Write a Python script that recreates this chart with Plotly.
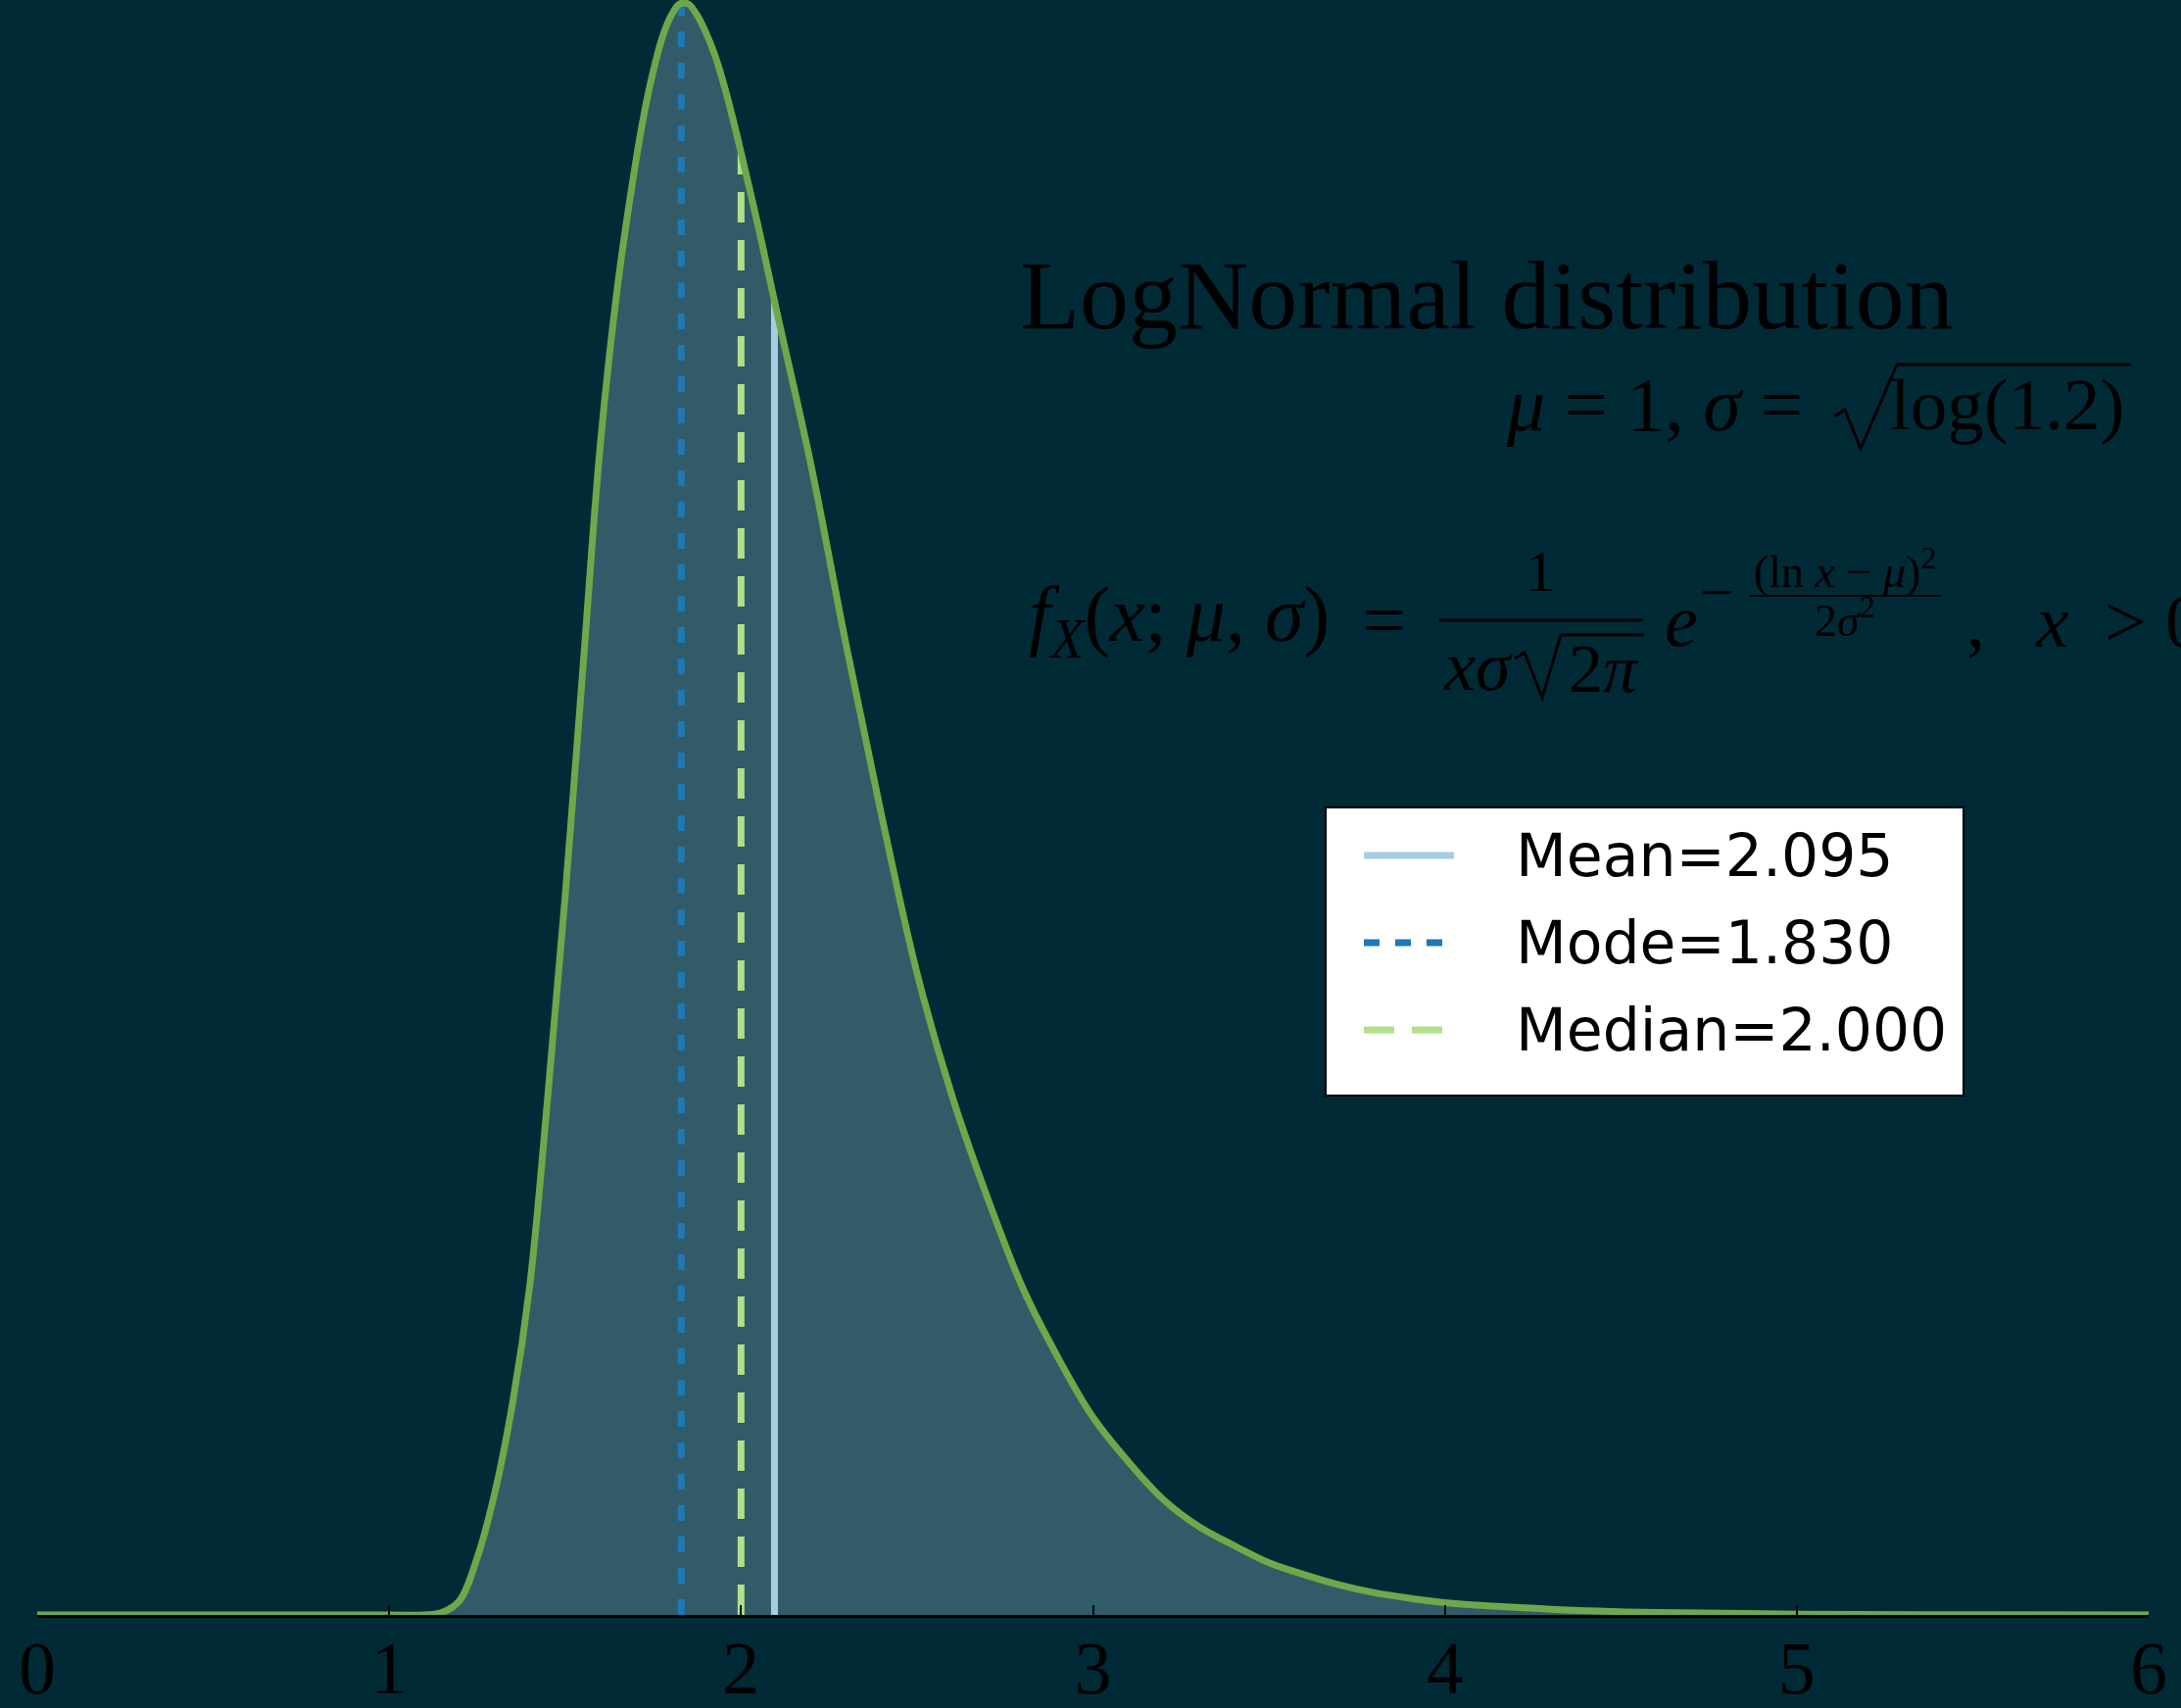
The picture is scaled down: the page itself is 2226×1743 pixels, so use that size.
import plotly.graph_objects as go

# ---- data ----
x_vals = [0.0, 0.5, 1.0, 1.1, 1.15, 1.2, 1.25, 1.3, 1.35, 1.4, 1.45, 1.5, 1.55, 1.6, 1.65,
          1.7, 1.725, 1.75, 1.775, 1.8, 1.825, 1.85, 1.875, 1.9, 1.925, 1.95, 1.975, 2.0,
          2.05, 2.1, 2.2, 2.3, 2.4, 2.5, 2.6, 2.7, 2.8, 2.9, 3.0, 3.1, 3.2, 3.3, 3.4, 3.5,
          3.6, 3.7, 3.8, 3.9, 4.0, 4.3, 4.6, 5.0, 5.5, 6.0]
pdf_vals = [0.0, 0.0, 0.0, 0.0, 0.0015, 0.009, 0.036, 0.077, 0.133, 0.209, 0.326, 0.454, 0.597,
            0.740, 0.842, 0.918, 0.950, 0.976, 0.997, 1.011, 1.019, 1.019, 1.012, 1.001, 0.987,
            0.969, 0.948, 0.925, 0.877, 0.826, 0.726, 0.612, 0.505, 0.406, 0.328, 0.264,
            0.207, 0.163, 0.125, 0.097, 0.073, 0.056, 0.044, 0.033, 0.0255, 0.019, 0.014,
            0.0105, 0.0078, 0.0036, 0.0015, 0.0005, 0.0001, 0.0]

stat_names = ["Mean=2.095", "Mode=1.830", "Median=2.000"]
stat_x = [2.095, 1.830, 2.000]
stat_top = [0.832, 1.019, 0.925]
stat_colors = ["#a6cee3", "#1f78b4", "#b2df8a"]
stat_dash = ["solid", "16px,16px", "31px,18px"]

tick_vals = [0, 1, 2, 3, 4, 5, 6]
tick_text = ["0", "1", "2", "3", "4", "5", "6"]

BG = "#002b36"
FILL = "#315b68"
CURVE = "#6fa84a"
SERIF = "Liberation Serif"
NB = "\u00a0"

W, H = 2226, 1743
ML, MR, MT, MB = 38, 33, 0, 95
PW, PH = W - ML - MR, H - MT - MB


def px(xp):
    return (xp - ML) / PW


def py(yp):
    return (H - MB - yp) / PH


fig = go.Figure()

# filled area under curve
fig.add_trace(go.Scatter(x=x_vals, y=pdf_vals, mode="lines", fill="tozeroy",
                         fillcolor=FILL, line=dict(width=0, shape="spline", smoothing=1.0),
                         showlegend=False, hoverinfo="skip"))

for name, sx, st, col, dsh in zip(stat_names, stat_x, stat_top, stat_colors, stat_dash):
    fig.add_trace(go.Scatter(x=[sx, sx], y=[0, st], mode="lines", name=name,
                             line=dict(color=col, width=7, dash=dsh), showlegend=False))

fig.add_trace(go.Scatter(x=x_vals, y=pdf_vals, mode="lines",
                         line=dict(color=CURVE, width=7, shape="spline", smoothing=1.0),
                         showlegend=False))

ann = []


def add_text(text, xp, yp, size, xanchor="center", yanchor="middle", family=SERIF):
    ann.append(dict(text=text, x=px(xp), y=py(yp), xref="paper", yref="paper",
                    xanchor=xanchor, yanchor=yanchor, showarrow=False,
                    font=dict(family=family, size=size, color="black")))


def path(points):
    s = "M " + " L ".join(f"{px(a):.5f},{py(b):.5f}" for a, b in points)
    return dict(type="path", xref="paper", yref="paper", path=s,
                line=dict(color="black", width=3))


# title and parameters
add_text("LogNormal distribution", 1517, 302, 100)
add_text("<i>μ</i> = 1, <i>σ</i> =", 1842, 412, 78, xanchor="right")
add_text("log(1.2)", 2171, 412, 75, xanchor="right")

# density formula, built piece by piece
add_text("<i>f</i><sub><i>X</i></sub>(<i>x</i>;" + NB + "<i>μ</i>," + NB + "<i>σ</i>)",
         1048, 633, 80, xanchor="left")
add_text("=", 1412, 633, 80)
add_text("1", 1572, 583, 60)
add_text("<i>x</i><i>σ</i>", 1508, 680, 72)
add_text("2<i>π</i>", 1637, 683, 70)
add_text("<i>e</i>", 1716, 633, 76)
add_text("−", 1752, 604, 62)
add_text("(ln" + NB + "<i>x</i>" + NB + "−" + NB + "<i>μ</i>)<sup>2</sup>", 1883, 580, 46)
add_text("2<i>σ</i><sup>2</sup>", 1883, 630, 46)
add_text(",", 2016, 634, 76)
add_text("<i>x</i>", 2075, 634, 76, xanchor="left")
add_text(">", 2169, 634, 76)
add_text("0", 2208, 634, 76, xanchor="left")

# legend text
leg_rows = [873, 962, 1051]
for name, ry in zip(stat_names, leg_rows):
    add_text(name, 1545, ry, 60, xanchor="left", family="DejaVu Sans")

shapes = [
    dict(type="line", xref="paper", yref="paper", x0=px(1469), x1=px(1677), y0=py(633), y1=py(633),
         line=dict(color="black", width=3)),
    dict(type="line", xref="paper", yref="paper", x0=px(1786), x1=px(1981), y0=py(608), y1=py(608),
         line=dict(color="black", width=2)),
    # radicals
    path([(1872, 425), (1883, 418), (1899, 458), (1936, 372), (2175, 372)]),
    path([(1546, 672), (1556, 666), (1574, 712), (1593, 648), (1678, 648)]),
    # legend frame
    dict(type="rect", xref="paper", yref="paper", x0=px(1353), x1=px(2004), y0=py(1118), y1=py(824),
         fillcolor="white", line=dict(color="black", width=2), layer="above"),
]
for col, dsh, ry in zip(stat_colors, stat_dash, leg_rows):
    shapes.append(dict(type="line", xref="paper", yref="paper", x0=px(1392), x1=px(1484),
                       y0=py(ry), y1=py(ry), line=dict(color=col, width=7, dash=dsh),
                       layer="above"))

fig.update_layout(
    width=W, height=H,
    margin=dict(l=ML, r=MR, t=MT, b=MB, autoexpand=False),
    paper_bgcolor=BG, plot_bgcolor=BG,
    annotations=ann, shapes=shapes,
    showlegend=False,
    xaxis=dict(range=[0, 6], tickvals=tick_vals, ticktext=tick_text, automargin=False,
               showgrid=False, zeroline=False, showline=True, linecolor="black", linewidth=3,
               ticks="inside", ticklen=10, tickwidth=1.5, tickcolor="black",
               ticklabelstandoff=-14,
               tickfont=dict(family=SERIF, size=76, color="black")),
    yaxis=dict(range=[0, 1.0215], visible=False, showgrid=False, zeroline=False, automargin=False),
)

fig.write_html("out.html", config={"displayModeBar": False},
               post_script="document.body.style.margin='0';document.body.style.overflow='hidden';")
